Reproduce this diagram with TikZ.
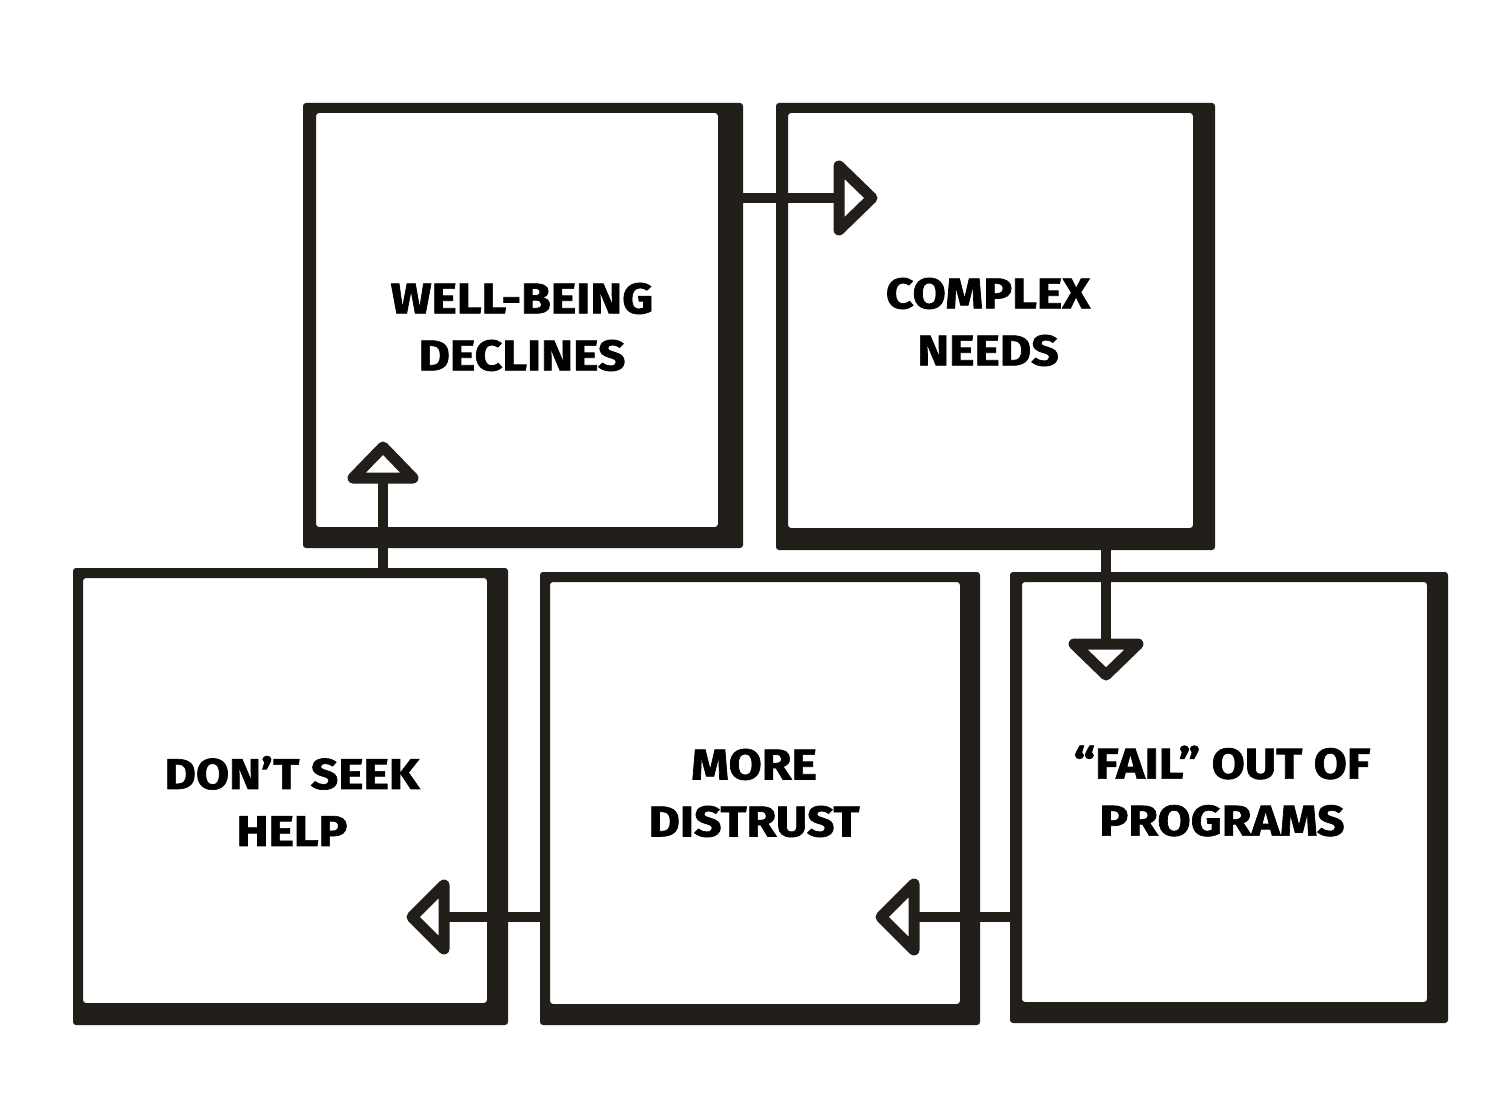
\documentclass[tikz,border=0pt]{standalone}
\usepackage{fontspec}
\setmainfont{Fira Sans}[BoldFeatures={FakeBold=1.6, FakeStretch=1.12}]
\usetikzlibrary{calc}
\definecolor{ink}{HTML}{221E1A}
\tikzset{
  boxnode/.style={rectangle, inner sep=0pt, outer sep=0pt, draw=none},
  txt/.style={font=\bfseries\fontsize{43}{57}\selectfont, align=center, text=black, inner sep=0pt},
  conn/.style={draw=ink, line width=10pt},
  tri/.style={draw=ink, line width=11pt, line join=round, fill=white},
}
\newcommand\mkbox[9]{%
  \node[boxnode, minimum width={(#4-#2)*1pt}, minimum height={(#5-#3)*1pt}] (#1) at ({(#2+#4)/2},{(#3+#5)/2}) {};
  \fill[ink, even odd rule, rounded corners=3pt] (#2,#3) rectangle (#4,#5) (#6,#7) rectangle (#8,#9);
}
\begin{document}
\begin{tikzpicture}[x=1pt, y=-1pt]
  \useasboundingbox[fill=white] (0,0) rectangle (1496,1102);
  \mkbox{b1}{303}{103}{743}{548}{316}{113}{718}{527}
  \mkbox{b2}{776}{103}{1215}{550}{788}{113}{1193}{528}
  \mkbox{b3}{1010}{572}{1448}{1023}{1022}{582}{1427}{1002}
  \mkbox{b4}{540}{572}{980}{1025}{550}{582}{960}{1004}
  \mkbox{b5}{73}{568}{508}{1025}{83}{578}{487}{1003}

  \node[txt] (t1) at (522,327) {WELL-BEING\\DECLINES};
  \node[txt] (t2) at (988,322) {COMPLEX\\NEEDS};
  \node[txt] (t3) at (1222,791) {“FAIL” OUT OF\\PROGRAMS};
  \node[txt] (t4) at (754,793) {MORE\\DISTRUST};
  \node[txt] (t5) at (292,801) {DON’T SEEK\\HELP};

  % connectors
  \coordinate (e12) at (839,198);
  \draw[conn] (b1.east |- e12) -- (e12);
  \draw[tri] ($(e12)+(0,-32)$) -- ++(33,32) -- ++(-33,32) -- cycle;

  \coordinate (e23) at (1106,644);
  \draw[conn] (b2.south -| e23) -- (e23);
  \draw[tri] ($(e23)+(-32,0)$) -- ++(32,31) -- ++(32,-31) -- cycle;

  \coordinate (e34) at (914,917);
  \draw[conn] (b3.west |- e34) -- (e34);
  \draw[tri] ($(e34)+(0,-33)$) -- ++(-33,33) -- ++(33,33) -- cycle;

  \coordinate (e45) at (444,917);
  \draw[conn] (b4.west |- e45) -- (e45);
  \draw[tri] ($(e45)+(0,-32)$) -- ++(-32,32) -- ++(32,32) -- cycle;

  \coordinate (e51) at (383,478);
  \draw[conn] (b5.north -| e51) -- (e51);
  \draw[tri] ($(e51)+(-30,0)$) -- ++(30,-31) -- ++(30,31) -- cycle;
\end{tikzpicture}
\end{document}
